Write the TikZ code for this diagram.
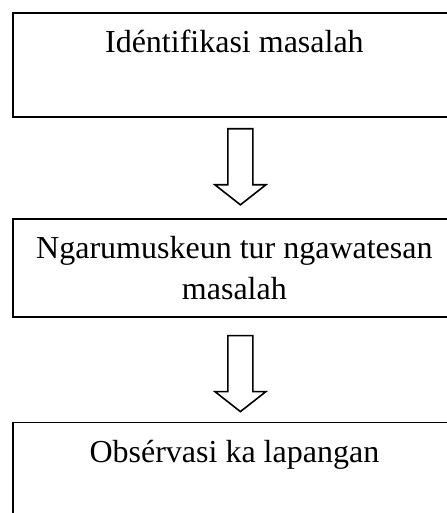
\documentclass[tikz,border=0pt]{standalone}
\usepackage{fontspec}
\setmainfont{Liberation Serif}
\usetikzlibrary{positioning,calc}

\newcommand{\hollowarrow}[2]{%
  \draw[line width=0.8pt] let \p1=(#1), \p2=(#2) in
    (\x1-6.25pt,\y1) -- (\x1+6.25pt,\y1) -- (\x1+6.25pt,\y2+10pt) -- (\x1+12.75pt,\y2+10pt)
    -- (\x2,\y2) -- (\x1-12.75pt,\y2+10pt) -- (\x1-6.25pt,\y2+10pt) -- cycle;}

\begin{document}
\begin{tikzpicture}
            \tikzstyle{block} = [draw, rectangle, line width=0.9pt, minimum width=221.5pt, align=center, inner ysep=0pt, font=\fontsize{16pt}{20.5pt}\selectfont]
            \useasboundingbox (0pt,0pt) rectangle (223pt,-256.5pt);
            \node [block, text height=20pt, text depth=32pt, anchor=north west] (identifikasi) at (6pt,-6pt) {Idéntifikasi masalah};
            \node [block, text height=40.5pt, text depth=8.5pt, below = 50pt of identifikasi] (rumusan) {Ngarumuskeun tur ngawatesan\\ masalah};
            \node [block, text height=20pt, text depth=40pt, below = 52pt of rumusan] (observasi) {Obsérvasi ka lapangan};

            \coordinate (arrowOneTop) at ($(identifikasi.south)+(3pt,-5.5pt)$);
            \coordinate (arrowOneTip) at ($(rumusan.north)+(3pt,6.5pt)$);
            \coordinate (arrowTwoTop) at ($(rumusan.south)+(3pt,-9pt)$);
            \coordinate (arrowTwoTip) at ($(observasi.north)+(3pt,5pt)$);

            \hollowarrow{arrowOneTop}{arrowOneTip}
            \hollowarrow{arrowTwoTop}{arrowTwoTip}
\end{tikzpicture}
\end{document}
